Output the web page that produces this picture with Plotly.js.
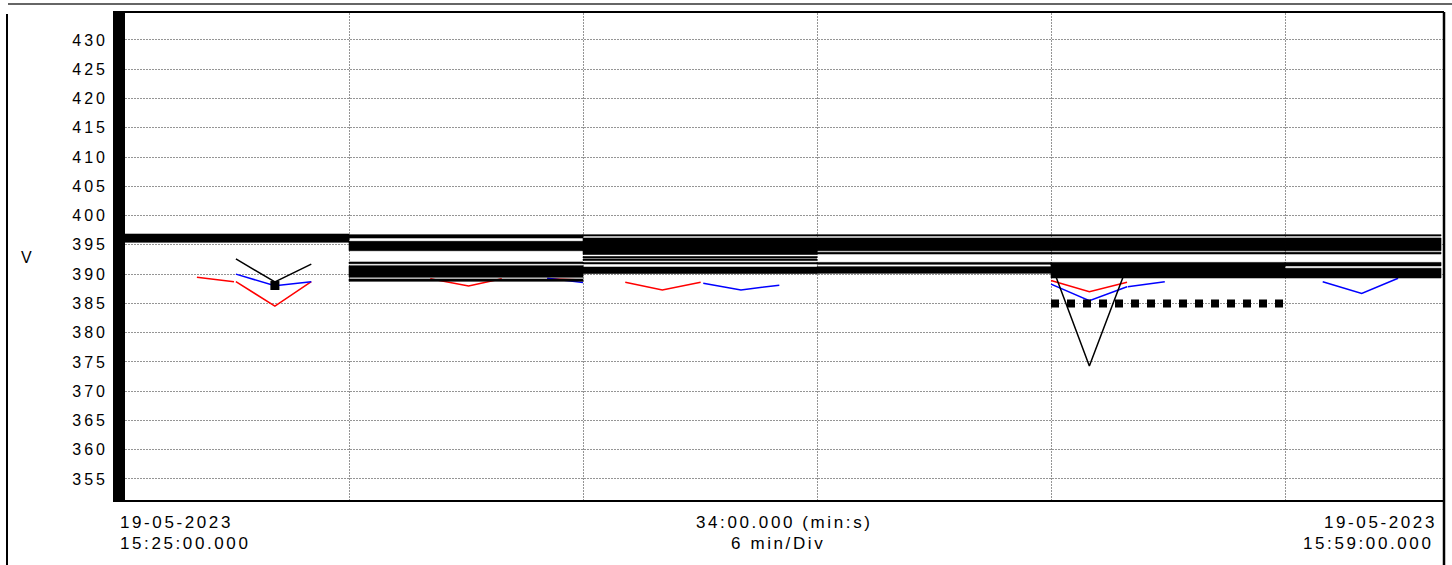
<!DOCTYPE html>
<html>
<head>
<meta charset="utf-8">
<script src="https://cdn.plot.ly/plotly-3.0.1.min.js"></script>
<style>
html,body{margin:0;padding:0;background:#fff;}
#chart{width:1452px;height:565px;}
text{letter-spacing:3px;}
text.annotation-text{letter-spacing:2.6px;}
</style>
</head>
<body>
<div id="chart"></div>
<script>
const DAY = '2023-05-19 ';
// Grid (division) times and y ticks
const divTimes = ['15:31:00', '15:37:00', '15:43:00', '15:49:00', '15:55:00'];
const yTicks = [355, 360, 365, 370, 375, 380, 385, 390, 395, 400, 405, 410, 415, 420, 425, 430];

// Horizontal black bands (recorded level envelopes) per 6-min division
const segStart = ['15:25:00', '15:31:00', '15:37:00', '15:43:00', '15:49:00', '15:55:00'];
const segEnd   = ['15:31:00', '15:37:00', '15:43:00', '15:49:00', '15:55:00', '15:59:00'];
const bandSeg  = [0,   1, 1, 1, 1, 1,   2, 2, 2, 2, 2, 2,   3, 3, 3, 3, 3,   4, 4, 4, 4,   5, 5, 5, 5, 5];
const bandLow  = [395.44, 396.17, 394.00, 391.78, 389.46, 388.77, 396.51, 393.35, 392.75, 392.33, 391.75, 390.10,
                  396.51, 394.00, 393.44, 391.68, 390.14, 396.51, 394.00, 393.44, 389.34,
                  396.51, 394.00, 393.44, 391.40, 389.34];
const bandHigh = [396.85, 396.74, 395.60, 392.07, 391.44, 389.17, 396.74, 396.17, 393.00, 392.58, 392.00, 391.20,
                  396.74, 396.17, 393.73, 392.00, 391.27, 396.74, 396.17, 393.73, 392.00,
                  396.74, 396.17, 393.73, 392.00, 391.00];

// Red series
const redT = ['15:27:06', '15:28:03', null, '15:28:06', '15:29:06', '15:30:02', null,
              '15:33:05', '15:34:04', '15:34:55', null, '15:36:05', '15:37:00', null,
              '15:38:05', '15:39:02', '15:40:01', null, '15:49:00', '15:49:59', '15:50:57'];
const redV = [389.45, 388.70, null, 388.70, 384.55, 388.70, null,
              389.20, 387.97, 389.20, null, 389.20, 389.00, null,
              388.60, 387.30, 388.60, null, 388.90, 387.00, 388.60];
// Blue series
const blueT = ['15:28:06', '15:29:06', '15:30:02', null, '15:36:05', '15:37:00', null,
               '15:40:05', '15:41:03', '15:42:02', null, '15:49:00', '15:49:59', '15:50:57', null,
               '15:50:58', '15:51:55', null, '15:55:58', '15:56:58', '15:57:54'];
const blueV = [390.00, 388.00, 388.70, null, 389.30, 388.55, null,
               388.43, 387.30, 388.10, null, 388.30, 385.45, 387.85, null,
               387.85, 388.70, null, 388.70, 386.70, 389.30];
// Black series
const blackT = ['15:28:06', '15:29:06', '15:30:02', null, '15:49:00', '15:49:59', '15:50:58'];
const blackV = [392.60, 388.65, 391.70, null, 391.80, 374.30, 391.60];
// Single black marker
const markT = ['15:29:06'];
const markV = [388.05];
// Dotted level
const dotT = ['15:49:00', '15:55:00'];
const dotV = [385.0, 385.0];

// Bottom labels
const leftLbl = ['19-05-2023', '15:25:00.000'];
const midLbl = ['34:00.000 (min:s)', '6 min/Div'];
const rightLbl = ['19-05-2023', '15:59:00.000'];

const ts = a => a.map(t => t === null ? null : DAY + t);

const traces = [];
traces.push({x: ts(redT), y: redV, mode: 'lines', line: {color: '#ff0000', width: 1.5}, connectgaps: false, hoverinfo: 'skip'});
traces.push({x: ts(blueT), y: blueV, mode: 'lines', line: {color: '#0000ff', width: 1.5}, connectgaps: false, hoverinfo: 'skip'});
traces.push({x: ts(blackT), y: blackV, mode: 'lines', line: {color: '#000000', width: 1.5}, connectgaps: false, hoverinfo: 'skip'});
traces.push({x: ts(markT), y: markV, mode: 'markers', marker: {symbol: 'square', size: 9, color: '#000'}, hoverinfo: 'skip'});
traces.push({x: ts(dotT), y: dotV, mode: 'lines', line: {color: '#000', width: 8, dash: '8px,8px'}, hoverinfo: 'skip'});
for (let i = 0; i < bandSeg.length; i++) {
  const s = bandSeg[i];
  const a = DAY + segStart[s], b = DAY + segEnd[s];
  traces.push({
    x: [a, b, b, a, a], y: [bandLow[i], bandLow[i], bandHigh[i], bandHigh[i], bandLow[i]],
    mode: 'lines', fill: 'toself', fillcolor: '#000', line: {color: '#000', width: 0.6}, hoverinfo: 'skip'
  });
}

const W = 1331, H = 487; // plot area in px
const px = v => (v - 113) / W;     // page x -> paper
const py = v => (500 - v) / H;     // page y -> paper
const fam = 'Liberation Sans, Arial, sans-serif';
const font = {family: fam, size: 17, color: '#000'};
const tickFont = {family: fam, size: 16, color: '#000'};

const ann = [];
ann.push({text: 'V', xref: 'paper', yref: 'paper', x: px(27), y: py(257), xanchor: 'center', yanchor: 'middle', showarrow: false, font: {family: fam, size: 16, color: '#000'}});
ann.push({text: leftLbl[0], xref: 'paper', yref: 'paper', x: px(118), y: py(522), xanchor: 'left', yanchor: 'middle', showarrow: false, font: font});
ann.push({text: leftLbl[1], xref: 'paper', yref: 'paper', x: px(118), y: py(543), xanchor: 'left', yanchor: 'middle', showarrow: false, font: font});
ann.push({text: midLbl[0], xref: 'paper', yref: 'paper', x: px(784), y: py(522), xanchor: 'center', yanchor: 'middle', showarrow: false, font: font});
ann.push({text: midLbl[1], xref: 'paper', yref: 'paper', x: px(778), y: py(543), xanchor: 'center', yanchor: 'middle', showarrow: false, font: font});
ann.push({text: rightLbl[0], xref: 'paper', yref: 'paper', x: px(1439), y: py(522), xanchor: 'right', yanchor: 'middle', showarrow: false, font: font});
ann.push({text: rightLbl[1], xref: 'paper', yref: 'paper', x: px(1435), y: py(543), xanchor: 'right', yanchor: 'middle', showarrow: false, font: font});

const shapes = [
  // thick left bar
  {type: 'rect', xref: 'paper', yref: 'paper', x0: 0, x1: 12 / W, y0: 0, y1: 1, fillcolor: '#000', line: {width: 0}, layer: 'above'},
  // outer frame lines
  {type: 'line', xref: 'paper', yref: 'paper', x0: px(8), x1: px(1452), y0: py(4), y1: py(4), line: {color: '#333', width: 1.5}},
  {type: 'line', xref: 'paper', yref: 'paper', x0: px(7), x1: px(7), y0: py(14), y1: py(566), line: {color: '#000', width: 2}},
  {type: 'line', xref: 'paper', yref: 'paper', x0: 1, x1: 1, y0: py(12), y1: py(566), line: {color: '#000', width: 2.5}}
];

const layout = {
  width: 1452, height: 565,
  margin: {l: 113, r: 8, t: 13, b: 65, pad: 0},
  paper_bgcolor: '#fff', plot_bgcolor: '#fff',
  showlegend: false,
  font: font,
  xaxis: {
    type: 'date', range: [DAY + '15:24:56.92', DAY + '15:59:04.6'],
    tickvals: ts(divTimes), showticklabels: false, ticks: '',
    showgrid: true, gridcolor: '#959595', gridwidth: 1, griddash: '2px,1px',
    showline: true, linecolor: '#000', linewidth: 2, mirror: true, zeroline: false, fixedrange: true
  },
  yaxis: {
    range: [351.41, 434.61], tickvals: yTicks, ticks: '', ticklabelstandoff: 4,
    tickfont: tickFont, showgrid: true, gridcolor: '#959595', gridwidth: 1, griddash: '2px,1px',
    showline: false, zeroline: false, fixedrange: true
  },
  annotations: ann,
  shapes: shapes
};

Plotly.newPlot('chart', traces, layout, {staticPlot: true, displayModeBar: false});
</script>
</body>
</html>
